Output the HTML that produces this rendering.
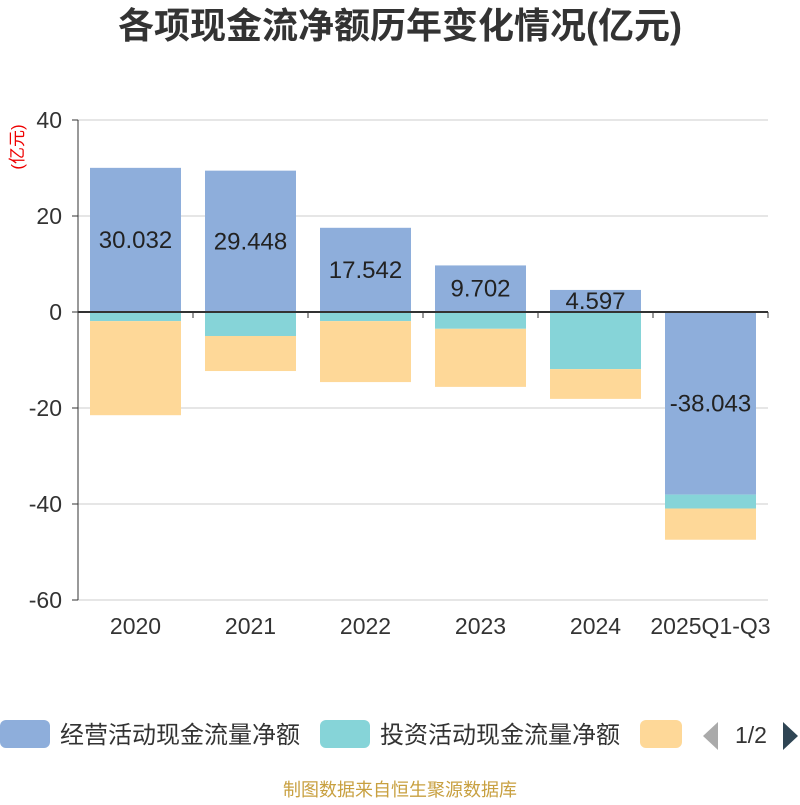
<!DOCTYPE html>
<html><head><meta charset="utf-8"><style>
body{margin:0;background:#fff;font-family:"Liberation Sans","Noto Sans CJK SC",sans-serif}
</style></head><body>
<svg width="800" height="800" xmlns="http://www.w3.org/2000/svg" id="chart" style="font-family:'Liberation Sans','Noto Sans CJK SC',sans-serif">
<text x="400" y="38" text-anchor="middle" font-size="36" font-weight="bold" fill="#333">各项现金流净额历年变化情况(亿元)</text>
<text transform="translate(23,147) rotate(-90)" text-anchor="middle" font-size="17" fill="#e00">(亿元)</text>
<g id="grid"></g><g id="bars"></g><g id="axes"></g>
<g>
<rect x="0" y="720" width="50" height="28" rx="6" fill="#8eaedb"/>
<text x="60" y="743" font-size="24" fill="#333">经营活动现金流量净额</text>
<rect x="320" y="720" width="50" height="28" rx="6" fill="#86d4d8"/>
<text x="380" y="743" font-size="24" fill="#333">投资活动现金流量净额</text>
<rect x="640" y="720" width="42" height="28" rx="6" fill="#fed898"/>
<polygon points="718,722 718,750 703,736" fill="#aaa"/>
<text x="751" y="743" text-anchor="middle" font-size="23" fill="#333">1/2</text>
<polygon points="783,722 783,750 798,736" fill="#2f4554"/>
</g>
<text x="400" y="796" text-anchor="middle" font-size="18" fill="#c8a040">制图数据来自恒生聚源数据库</text>
</svg>
<script>
const categories=["2020","2021","2022","2023","2024","2025Q1-Q3"];
const operating=[30.032,29.448,17.542,9.702,4.597,-38.043];
const investing=[-1.9,-5.0,-1.9,-3.5,-11.9,-2.9];
const financing=[-19.6,-7.3,-12.7,-12.1,-6.2,-6.5];
const yTicks=[40,20,0,-20,-40,-60];
const colors=["#8eaedb","#86d4d8","#fed898"];
const NS="http://www.w3.org/2000/svg";
const x0=78,x1=768,yTop=120,yBot=600,vMax=40,vMin=-60;
const Y=v=>yTop+(vMax-v)/(vMax-vMin)*(yBot-yTop);
const bw=(x1-x0)/categories.length;
function mk(t,a,p){const e=document.createElementNS(NS,t);for(const k in a)e.setAttribute(k,a[k]);p.appendChild(e);return e;}
const grid=document.getElementById('grid'),bars=document.getElementById('bars'),axes=document.getElementById('axes');
yTicks.forEach(v=>{
 const l=mk('line',{x1:x0,x2:x1,y1:Y(v),y2:Y(v),stroke:'#ccc'},grid);
 
 
 const t=mk('text',{x:62,y:Y(v)+8,'text-anchor':'end','font-size':23,fill:'#333'},axes);
 t.textContent=v;
 
 
 mk('line',{x1:x0-6,x2:x0,y1:Y(v),y2:Y(v),stroke:'#333'},axes);
});
const yl=mk('line',{x1:x0,x2:x0,y1:yTop,y2:yBot,stroke:'#333'},axes);


const xl=mk('line',{x1:x0,x2:x1,y1:Y(0),y2:Y(0),stroke:'#333','stroke-width':2},axes);


for(let i=0;i<=categories.length;i++)mk('line',{x1:x0+i*bw,x2:x0+i*bw,y1:Y(0),y2:Y(0)+6,stroke:'#333'},axes);
const series=[operating,investing,financing];
categories.forEach((c,i)=>{
 const bx=x0+i*bw+12,w=bw-24;
 let pos=0,neg=0;
 series.forEach((s,k)=>{
  const v=s[i];let a,b;
  if(v>=0){a=pos;b=pos+v;pos=b;}else{a=neg;b=neg+v;neg=b;}
  const r=mk('rect',{x:bx,width:w,y:Math.min(Y(a),Y(b)),height:Math.abs(Y(a)-Y(b)),fill:colors[k]},bars);
  
  
 });
 const v=operating[i];
 const lt=mk('text',{x:bx+w/2,y:(Y(0)+Y(v))/2+8,'text-anchor':'middle','font-size':24,fill:'#222'},bars);
 lt.textContent=v.toFixed(3);
 
 
 const t=mk('text',{x:x0+i*bw+bw/2,y:634,'text-anchor':'middle','font-size':23,fill:'#333'},axes);
 t.textContent=c;
 
 
});
</script>
</body></html>
